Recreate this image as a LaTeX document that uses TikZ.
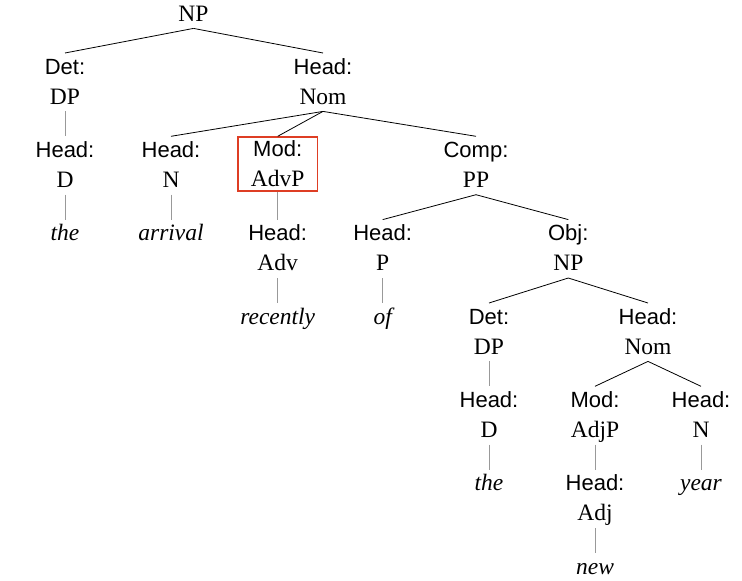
\documentclass[tikz,border=0pt]{standalone}
\usepackage{fontspec}
\setmainfont{Liberation Serif}
\setsansfont{Liberation Sans}

\definecolor{boxred}{RGB}{222,62,36}
\newcommand\fn[1]{{\sffamily\rule{0pt}{19pt}#1}}
\newcommand\ct[1]{{\fontsize{23.5}{30}\selectfont\rule[-5pt]{0pt}{5pt}#1}}
\newcommand\lf[1]{{\fontsize{23.5}{30}\selectfont\itshape\rule{0pt}{19pt}#1}}

\begin{document}
\begin{tikzpicture}[
	x=1pt, y=-1pt,
	const/.style={
		anchor=north,
		align=center,
		inner xsep=2pt,
		inner ysep=2pt,
		font=\fontsize{22}{30}\selectfont
		},
	word/.style={
		anchor=north,
		inner sep=2pt
		},
	focus/.style={
		draw=boxred,
		line width=1.8pt,
		inner xsep=13pt,
		inner ysep=0pt
		},
	branch/.style={
		draw=black,
		line width=0.8pt
		},
	unary/.style={
		draw=black!40,
		line width=1pt
	}
]
\useasboundingbox (0,0) rectangle (742,581);

% Root
\node [const] (np) at (193.5,0) {\ct{\rule{0pt}{19pt}NP}};

% Level 1
\node [const] (det) at (65,53) {\fn{Det:}\\\ct{DP}};
\node [const] (nom) at (323,53) {\fn{Head:}\\\ct{Nom}};

% Level 2
\node [const] (d) at (65,136.3) {\fn{Head:}\\\ct{D}};
\node [const] (n) at (171,136.3) {\fn{Head:}\\\ct{N}};
\node [const,focus] (mod) at (277.7,136.3) {\fn{Mod:}\\\ct{AdvP}};
\node [const] (comp) at (476,136.3) {\fn{Comp:}\\\ct{PP}};

% Level 3
\node [word] (the) at (65,219.6) {\lf{the}};
\node [word] (arrival) at (171,219.6) {\lf{arrival}};
\node [const] (adv) at (277.7,219.6) {\fn{Head:}\\\ct{Adv}};
\node [const] (p) at (382.7,219.6) {\fn{Head:}\\\ct{P}};
\node [const] (obj) at (568.3,219.6) {\fn{Obj:}\\\ct{NP}};

% Level 4
\node [word] (recently) at (277.7,303) {\lf{recently}};
\node [word] (of) at (382.7,303) {\lf{of}};
\node [const] (det2) at (489,303) {\fn{Det:}\\\ct{DP}};
\node [const] (nom2) at (648,303) {\fn{Head:}\\\ct{Nom}};

% Level 5
\node [const] (d2) at (489,386.3) {\fn{Head:}\\\ct{D}};
\node [const] (adjp) at (595,386.3) {\fn{Mod:}\\\ct{AdjP}};
\node [const] (n2) at (701,386.3) {\fn{Head:}\\\ct{N}};

% Level 6
\node [word] (the2) at (489,469.6) {\lf{the}};
\node [const] (adj) at (595,469.6) {\fn{Head:}\\\ct{Adj}};
\node [word] (year) at (701,469.6) {\lf{year}};

% Level 7
\node [word] (new) at (595,553) {\lf{new}};

% Branches
\foreach \a/\b in {np/det, np/nom, nom/n, nom/mod, nom/comp, comp/p, comp/obj,
		obj/det2, obj/nom2, nom2/adjp, nom2/n2}
	\draw [branch] (\a.south) -- (\b.north);

% Unary lines
\foreach \a/\b in {det/d, d/the, n/arrival, mod/adv, adv/recently, p/of,
		det2/d2, d2/the2, adjp/adj, adj/new, n2/year}
	\draw [unary] (\a.south) -- (\b.north);

\end{tikzpicture}
\end{document}
